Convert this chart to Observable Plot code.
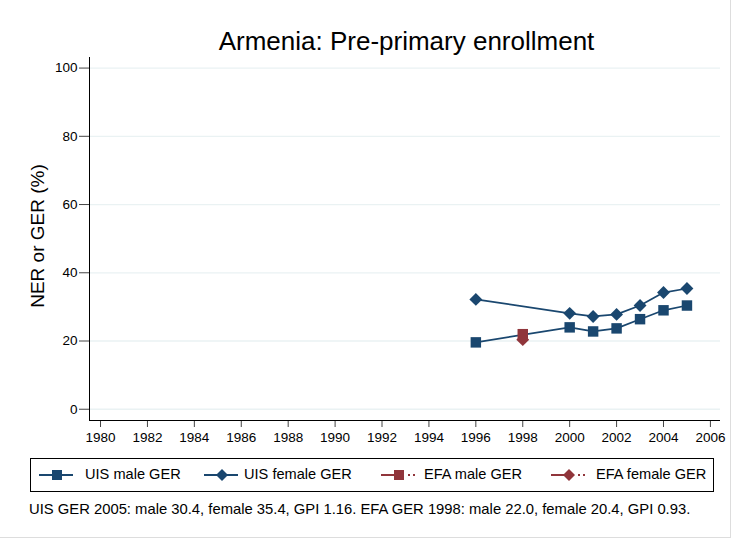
<!DOCTYPE html>
<html><head><meta charset="utf-8">
<script src="https://cdn.jsdelivr.net/npm/d3@7"></script>
<script src="https://cdn.jsdelivr.net/npm/@observablehq/plot@0.6"></script>
<style>
body{margin:0;background:#fff;font-family:Arial,"Liberation Sans",sans-serif;}
#wrap{position:relative;width:731px;height:538px;overflow:hidden;background:#fff;}
#title{position:absolute;left:0;width:813px;top:26px;text-align:center;font-size:26px;line-height:30px;color:#000;white-space:nowrap;}
#chart{position:absolute;left:0;top:0;}
#legend{position:absolute;left:30px;top:458px;width:684px;height:34px;border:1px solid #000;box-sizing:border-box;font-size:14.6px;}
#legend .it{display:flex;align-items:center;position:absolute;top:6px;height:20px;white-space:nowrap;}
#legend svg{position:absolute;left:0;top:0;}
#legend span{position:absolute;top:1px;}
#caption{position:absolute;left:29px;top:501px;font-size:14.8px;line-height:17px;color:#000;white-space:nowrap;}
#border{position:absolute;left:0;top:0;width:730px;height:537px;border-right:1px solid #ddd;border-bottom:1px solid #ddd;}
</style></head>
<body>
<div id="wrap">
<div id="border"></div>
<div id="chart"></div>
<div id="title">Armenia: Pre-primary enrollment</div>
<div id="legend"></div>
<div id="caption">UIS GER 2005: male 30.4, female 35.4, GPI 1.16. EFA GER 1998: male 22.0, female 20.4, GPI 0.93.</div>
</div>
<script>
const uisYears = [1996, 2000, 2001, 2002, 2003, 2004, 2005];
const uisMale = [19.6, 24.0, 22.8, 23.7, 26.4, 29.0, 30.4];
const uisFemale = [32.2, 28.1, 27.2, 27.8, 30.4, 34.2, 35.4];
const efaYears = [1998];
const efaMale = [22.0];
const efaFemale = [20.4];
const xTicks = d3.range(1980, 2007, 2);
const yTicks = [0, 20, 40, 60, 80, 100];
const seriesNames = ["UIS male GER", "UIS female GER", "EFA male GER", "EFA female GER"];

const navy = "#1a476f", maroon = "#90353b";
const mk = (years, vals) => years.map((y, i) => ({year: y, v: vals[i]}));
const um = mk(uisYears, uisMale), uf = mk(uisYears, uisFemale);
const em = mk(efaYears, efaMale), ef = mk(efaYears, efaFemale);

const chart = Plot.plot({
  width: 731, height: 445,
  marginLeft: 89, marginRight: 11, marginTop: 57, marginBottom: 25,
  style: {fontFamily: "Arial, 'Liberation Sans', sans-serif", color: "#000", background: "transparent", overflow: "visible"},
  x: {domain: [1979.53, 2006.43], label: null},
  y: {domain: [-3.3, 103.1], label: null},
  marks: [
    Plot.ruleY(yTicks, {stroke: "#eaf2f3", strokeWidth: 1.3}),
    Plot.axisX({ticks: xTicks, tickFormat: () => "", tickSize: 7, label: null, stroke: "#444"}),
    Plot.axisY({ticks: yTicks, tickFormat: () => "", tickSize: 10, label: null, stroke: "#444"}),
    Plot.text(xTicks, {x: d => d, frameAnchor: "bottom", lineAnchor: "top", dy: 12, text: d => String(d), fontSize: 13.5, fill: "#000"}),
    Plot.text(yTicks, {y: d => d, frameAnchor: "left", textAnchor: "end", dx: -12, text: d => String(d), fontSize: 13.5, fill: "#000"}),
    Plot.ruleX([1979.53], {stroke: "#000"}),
    Plot.ruleY([-3.3], {stroke: "#000"}),
    Plot.text(["NER or GER (%)"], {frameAnchor: "left", textAnchor: "middle", dx: -52, dy: -3, rotate: -90, fontSize: 19, fill: "#000"}),
    Plot.line(uf, {x: "year", y: "v", stroke: navy, strokeWidth: 1.7}),
    Plot.line(um, {x: "year", y: "v", stroke: navy, strokeWidth: 1.7}),
    Plot.line(em, {x: "year", y: "v", stroke: maroon, strokeWidth: 1.7, strokeDasharray: "6,3"}),
    Plot.line(ef, {x: "year", y: "v", stroke: maroon, strokeWidth: 1.7, strokeDasharray: "6,3"}),
    Plot.dot(um, {x: "year", y: "v", symbol: "square", r: 5.9, fill: navy, stroke: null}),
    Plot.dot(uf, {x: "year", y: "v", symbol: "diamond2", r: 5.8, fill: navy, stroke: null}),
    Plot.dot(em, {x: "year", y: "v", symbol: "square", r: 5.9, fill: maroon, stroke: null}),
    Plot.dot(ef, {x: "year", y: "v", symbol: "diamond2", r: 5.8, fill: maroon, stroke: null})
  ]
});
document.getElementById("chart").appendChild(chart);

// legend (positions relative to legend box)
const leg = document.getElementById("legend");
const specs = [
  {name: seriesNames[0], color: navy, sym: "square", dash: false, left: 7, text: 54},
  {name: seriesNames[1], color: navy, sym: "diamond", dash: false, left: 172, text: 213},
  {name: seriesNames[2], color: maroon, sym: "square", dash: true, left: 349, text: 393},
  {name: seriesNames[3], color: maroon, sym: "diamond", dash: true, left: 519, text: 565}
];
for (const s of specs) {
  const it = document.createElement("div");
  it.className = "it";
  it.style.left = s.left + "px";
  const sym = s.sym === "square"
    ? `<rect x="14" y="5" width="10" height="10" fill="${s.color}"/>`
    : `<path d="M19,4 L25,10 L19,16 L13,10 Z" fill="${s.color}"/>`;
  const line = s.dash
    ? `<line x1="1" y1="10" x2="24" y2="10" stroke="${s.color}" stroke-width="2"/><line x1="28" y1="10" x2="30" y2="10" stroke="${s.color}" stroke-width="2"/><line x1="33" y1="10" x2="35" y2="10" stroke="${s.color}" stroke-width="2"/>`
    : `<line x1="1" y1="10" x2="35" y2="10" stroke="${s.color}" stroke-width="2"/>`;
  it.innerHTML = `<svg width="40" height="20">${line}${sym}</svg><span style="left:${s.text - s.left}px">${s.name}</span>`;
  leg.appendChild(it);
}
</script>
</body></html>
